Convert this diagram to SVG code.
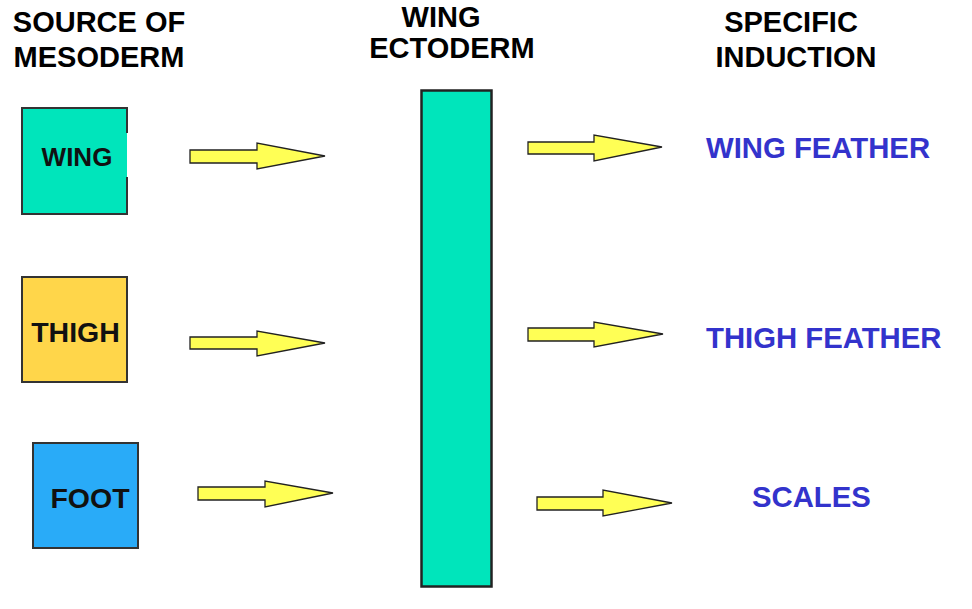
<svg xmlns="http://www.w3.org/2000/svg" width="972" height="609" viewBox="0 0 972 609">
<style>
.hdr{font-family:"Liberation Sans",Arial,sans-serif;font-weight:bold;font-size:29px;fill:#000;text-anchor:middle}
.lbl{font-family:"Liberation Sans",Arial,sans-serif;font-weight:bold;font-size:28.5px;fill:#111;text-anchor:middle}
.out{font-family:"Liberation Sans",Arial,sans-serif;font-weight:bold;font-size:29.3px;fill:#3333CC}
.box{stroke:#333;stroke-width:2}
.arr{fill:#FFFF55;stroke:#222;stroke-width:1.3;stroke-linejoin:miter}
</style>
<rect width="972" height="609" fill="#fff"/>
<g id="headers">
<text class="hdr" x="99" y="32">SOURCE OF</text>
<text class="hdr" x="99" y="67">MESODERM</text>
<text class="hdr" x="441" y="26.5">WING</text>
<text class="hdr" x="452" y="58">ECTODERM</text>
<text class="hdr" x="791" y="32">SPECIFIC</text>
<text class="hdr" x="796" y="67">INDUCTION</text>
</g>
<g id="wing">
<rect x="22" y="108" width="105" height="106" fill="#00E5BB"/>
<path d="M127,133 V108 H22 V214 H127 V177" fill="none" stroke="#333" stroke-width="2"/>
<text class="lbl" x="77" y="166" style="font-size:26px">WING</text>
</g>
<g id="thigh">
<rect class="box" x="22" y="277" width="105" height="105" fill="#FFD64A"/>
<text class="lbl" x="75.5" y="342">THIGH</text>
</g>
<g id="foot">
<rect class="box" x="33" y="443" width="105" height="105" fill="#29ABF8"/>
<text class="lbl" x="90" y="508">FOOT</text>
</g>
<g id="ectoderm">
<rect x="421.5" y="90.5" width="70" height="496" fill="#00E5BB" stroke="#222" stroke-width="2.5"/>
</g>
<g id="wing-feather"><text class="out" x="706" y="158">WING FEATHER</text></g>
<g id="thigh-feather"><text class="out" x="706" y="348">THIGH FEATHER</text></g>
<g id="scales"><text class="out" x="752" y="507">SCALES</text></g>
<g id="connectors">
<polygon class="arr" points="190,150 257,150 257,143 325,156 257,169 257,163 190,163"/>
<polygon class="arr" points="190,337 257,337 257,331 325,343 257,356 257,349 190,349"/>
<polygon class="arr" points="198,487 265,487 265,481 333,493 265,507 265,500 198,500"/>
<polygon class="arr" points="528,142 594,142 594,135 662,147 594,161 594,154 528,154"/>
<polygon class="arr" points="528,328 594,328 594,322 663,334 594,347 594,341 528,341"/>
<polygon class="arr" points="537,497 603,497 603,490 672,503 603,516 603,510 537,510"/>
</g>
</svg>
